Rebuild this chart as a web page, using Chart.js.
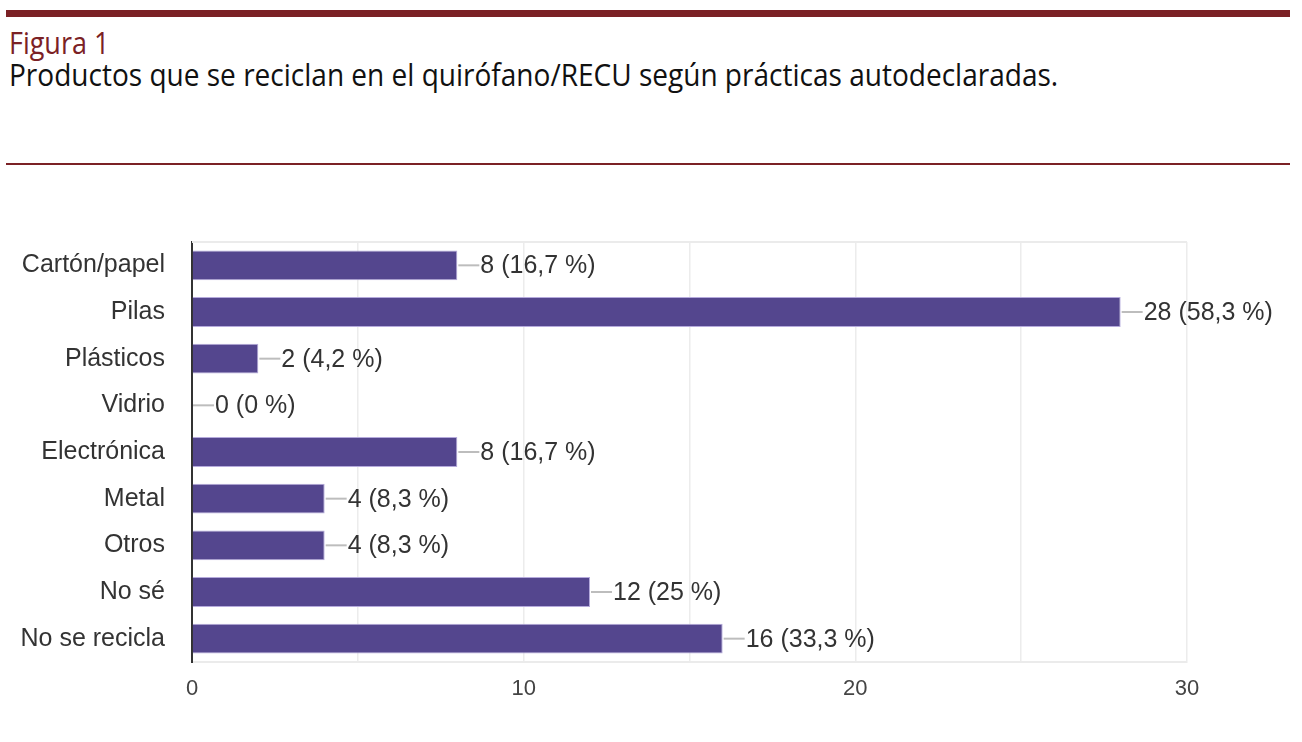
<!DOCTYPE html>
<html>
<head>
  <meta charset="UTF-8">
  <title>Figura 1</title>
  <script src="https://cdn.jsdelivr.net/npm/chart.js"></script>
  <style>
    body {
      margin: 0;
      padding: 0;
      width: 1302px;
      height: 742px;
      background-color: white;
      position: relative;
      overflow: hidden;
    }
    .regla-gruesa {
      position: absolute; left: 6px; right: 12px; top: 10px; height: 7px;
      background: #7b2125;
    }
    .regla-fina {
      position: absolute; left: 6px; right: 12px; top: 163px; height: 2px;
      background: #7b2125;
    }
    .figura, .titulo {
      position: absolute; left: 9px;
      font-family: "Open Sans", "Noto Sans", sans-serif;
      font-size: 31px; line-height: 32px;
      transform-origin: left top;
      white-space: nowrap;
    }
    .figura { top: 26px; color: #7b2125; transform: scaleX(0.87); }
    .titulo { top: 58px; color: #111; transform: scaleX(0.904); }
    #contenedor {
      position: absolute; left: 0; top: 200px; width: 1302px; height: 542px;
    }
  </style>
</head>
<body>
  <div class="regla-gruesa"></div>
  <div class="figura">Figura 1</div>
  <div class="titulo">Productos que se reciclan en el quirófano/RECU según prácticas autodeclaradas.</div>
  <div class="regla-fina"></div>
  <div id="contenedor"><canvas id="miGrafica"></canvas></div>

  <script type="text/javascript">
    const categorias = ['Cartón/papel', 'Pilas', 'Plásticos', 'Vidrio', 'Electrónica', 'Metal', 'Otros', 'No sé', 'No se recicla'];
    const respuestas = [8, 28, 2, 0, 8, 4, 4, 12, 16];
    const porcentajes = ['16,7', '58,3', '4,2', '0', '16,7', '8,3', '8,3', '25', '33,3'];
    const ticksX = [0, 10, 20, 30];

    // marco superior del área y etiquetas con línea guía
    const etiquetasBarras = {
      id: 'etiquetasBarras',
      beforeDatasetsDraw(chart) {
        const { ctx, chartArea: a } = chart;
        ctx.save();
        ctx.strokeStyle = '#ebebeb';
        ctx.lineWidth = 2;
        ctx.beginPath();
        ctx.moveTo(a.left, a.top);
        ctx.lineTo(a.right, a.top);
        ctx.stroke();
        ctx.restore();
      },
      afterDatasetsDraw(chart) {
        const { ctx } = chart;
        const meta = chart.getDatasetMeta(0);
        ctx.save();
        ctx.font = '25px "Liberation Sans", Arial, sans-serif';
        ctx.textBaseline = 'middle';
        meta.data.forEach((bar, i) => {
          const x = bar.x + 1;
          const y = bar.y;
          ctx.strokeStyle = '#bdbdbd';
          ctx.lineWidth = 2;
          ctx.beginPath();
          ctx.moveTo(x, y);
          ctx.lineTo(x + 21, y);
          ctx.stroke();
          ctx.fillStyle = '#333333';
          ctx.fillText(respuestas[i] + ' (' + porcentajes[i] + ' %)', x + 22, y + 1);
        });
        ctx.restore();
      }
    };

    const ctx = document.getElementById('miGrafica').getContext('2d');
    new Chart(ctx, {
      type: 'bar',
      data: {
        labels: categorias,
        datasets: [{
          data: respuestas,
          backgroundColor: '#54468e',
          borderColor: '#b5aadc',
          borderWidth: { top: 1, bottom: 1, right: 1, left: 0 },
          borderSkipped: 'left',
          barPercentage: 0.64,
          categoryPercentage: 1
        }]
      },
      options: {
        indexAxis: 'y',
        responsive: true,
        maintainAspectRatio: false,
        animation: false,
        layout: { padding: { top: 38, right: 115, left: 0, bottom: 0 } },
        plugins: {
          legend: { display: false },
          tooltip: { enabled: false }
        },
        scales: {
          x: {
            min: 0,
            max: 30,
            afterBuildTicks(axis) {
              axis.ticks = [0, 5, 10, 15, 20, 25, 30].map(v => ({ value: v }));
            },
            ticks: {
              padding: 14,
              color: '#444',
              font: { family: '"Liberation Sans", Arial, sans-serif', size: 22 },
              callback: v => ticksX.includes(v) ? String(v) : ''
            },
            grid: { color: '#ececec', lineWidth: 1.5, drawTicks: false },
            border: { color: '#ebebeb', width: 2 },
            afterFit(axis) { axis.height = 80; }
          },
          y: {
            ticks: {
              padding: 27,
              color: '#333',
              font: { family: '"Liberation Sans", Arial, sans-serif', size: 25 }
            },
            grid: { display: false, drawTicks: false },
            border: { color: '#333', width: 2 },
            afterFit(axis) { axis.width = 192; }
          }
        }
      },
      plugins: [etiquetasBarras]
    });
  </script>
</body>
</html>
